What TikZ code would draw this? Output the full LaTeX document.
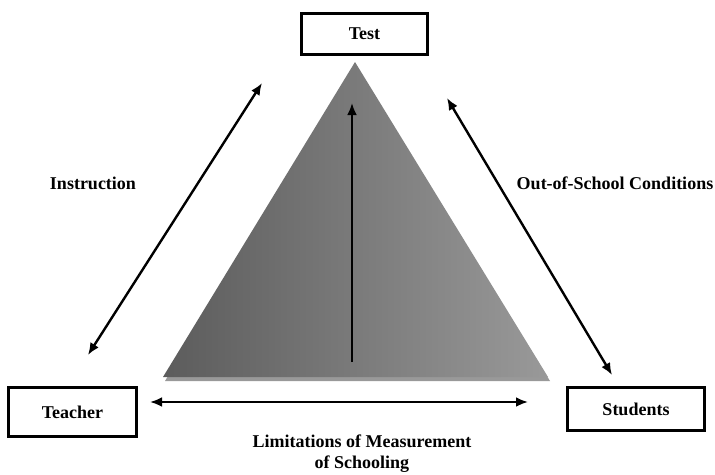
\documentclass[tikz,border=0pt]{standalone}
\usepackage{fontspec}
\setmainfont{Liberation Serif}
\usetikzlibrary{arrows.meta,positioning}

\begin{document}
\begin{tikzpicture}[
    x=1pt, y=-1pt,
    font=\fontsize{18}{21}\selectfont\bfseries,
    box/.style={draw, line width=3pt, inner sep=0pt},
    label/.style={align=center, inner sep=0pt},
    arrow/.style={{Latex[length=12pt,width=10pt]}-{Latex[length=12pt,width=10pt]}, line width=2.4pt},
    uparrow/.style={-{Latex[length=12pt,width=10pt]}, line width=2.4pt}
]
\useasboundingbox (0,0) rectangle (715,474);

% triangle with soft shadow
\fill[black!40] (356,66) -- (165,381) -- (550,381) -- cycle;
\shade[shading angle=55, left color=black!64, right color=black!40]
    (355,62) -- (163,377) -- (548,377) -- cycle;

% boxes
\node[box, minimum width=126pt, minimum height=41pt] (test) at (364.5,34) {Test};
\node[box, minimum width=128pt, minimum height=49pt] (teacher) at (72.5,412) {Teacher};
\node[box, minimum width=137pt, minimum height=43pt] (students) at (636,409) {Students};

% labels
\node[label] (instr) at (93,183) {Instruction};
\node[label] (outside) at (615,183) {Out-of-School Conditions};
\node[label] (limits) at (362,454) {Limitations of Measurement\\of Schooling};

% arrow end points
\coordinate (instrA) at (88,355);
\coordinate (instrB) at (262,83);
\coordinate (outA) at (447,98);
\coordinate (outB) at (612,375);
\coordinate (limA) at (150,402);
\coordinate (limB) at (528,402);
\coordinate (midA) at (352,362);
\coordinate (midB) at (352,103);

\draw[arrow] (instrA) -- (instrB);
\draw[arrow] (outA) -- (outB);
\draw[arrow] (limA) -- (limB);
\draw[uparrow] (midA) -- (midB);
\end{tikzpicture}
\end{document}
